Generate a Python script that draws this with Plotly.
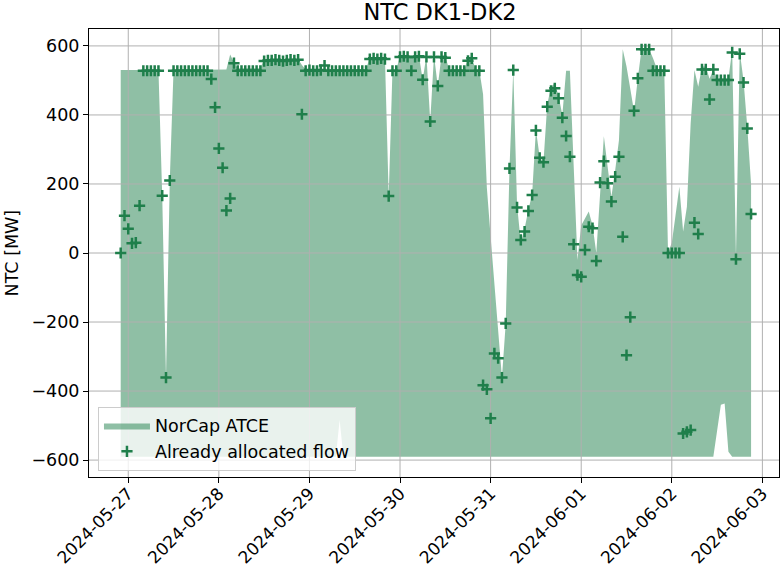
import pandas as pd
import plotly.graph_objects as go

# ---------------- data (hourly, starting 2024-05-26 22:00) ----------------
start_time = "2024-05-26 22:00"

already_allocated_flow = [
    0, 108, 70, 28, 30, 137, 528, 528, 528, 528, 528, 166,
    -361, 210, 528, 528, 528, 528, 528, 528, 528, 528, 528, 528,
    504, 422, 303, 247, 123, 158, 550, 528, 528, 528, 528, 528,
    528, 528, 556, 558, 558, 560, 558, 556, 558, 560, 558, 560,
    402, 528, 530, 528, 528, 530, 543, 528, 528, 528, 528, 528,
    528, 528, 528, 528, 528, 528, 562, 564, 562, 564, 562, 165,
    528, 528, 568, 570, 568, 528, 568, 570, 502, 568, 381, 568,
    484, 568, 566, 528, 528, 528, 528, 528, 557, 564, 528, 528,
    -383, -395, -479, -291, -305, -361, -204, 245, 530, 132, 38, 62,
    122, 168, 355, 276, 263, 424, 470, 477, 448, 392, 339, 279,
    25, -64, -69, 9, 76, 72, -23, 204, 266, 202, 149, 221,
    279, 47, -296, -186, 412, 506, 590, 590, 590, 528, 528, 528,
    528, 0, 0, 0, 0, -523, -518, -513, 88, 55, 532, 532,
    445, 532, 501, 501, 501, 501, 581, -18, 577, 494, 361, 113,
]

atce_upper = [
    530, 530, 530, 530, 530, 530, 530, 530, 530, 530, 530, 166,
    -361, 210, 530, 530, 530, 530, 530, 530, 530, 530, 530, 530,
    530, 530, 530, 530, 532, 575, 552, 535, 535, 535, 535, 535,
    535, 535, 562, 562, 562, 562, 562, 562, 562, 562, 562, 562,
    545, 532, 532, 532, 532, 532, 532, 532, 532, 532, 532, 532,
    532, 532, 532, 532, 532, 532, 568, 568, 568, 568, 568, 165,
    530, 530, 572, 572, 572, 572, 572, 572, 502, 572, 381, 572,
    484, 572, 572, 530, 530, 530, 530, 530, 565, 570, 530, 530,
    460, 190, 47, -90, -233, -361, -204, 245, 530, 140, 30, 70,
    125, 170, 357, 278, 263, 430, 481, 492, 455, 400, 528, 528,
    254, -20, 80, 100, 120, 80, 0, 170, 338, 250, 163, 240,
    327, 590, 540, 476, 410, 506, 592, 592, 590, 565, 535, 532,
    532, 0, 30, 110, 192, 62, 134, 376, 530, 482, 540, 540,
    505, 532, 505, 505, 505, 505, 588, -10, 583, 500, 365, 200,
]

atce_lower = [
    -590, -590, -590, -590, -590, -590, -590, -590, -590, -590, -590, -590,
    -590, -590, -590, -590, -590, -590, -590, -590, -590, -590, -590, -590,
    -590, -590, -590, -590, -590, -590, -590, -590, -590, -590, -590, -590,
    -590, -590, -590, -590, -590, -590, -590, -590, -590, -590, -590, -590,
    -590, -590, -590, -590, -590, -590, -590, -590, -590, -590, -484, -590,
    -590, -590, -590, -590, -590, -590, -590, -590, -590, -590, -590, -590,
    -590, -590, -590, -590, -590, -590, -590, -590, -590, -590, -590, -590,
    -590, -590, -590, -590, -590, -590, -590, -590, -590, -590, -590, -590,
    -590, -590, -590, -590, -590, -590, -590, -590, -590, -590, -590, -590,
    -590, -590, -590, -590, -590, -590, -590, -590, -590, -590, -590, -590,
    -590, -590, -590, -590, -590, -590, -590, -590, -590, -590, -590, -590,
    -590, -590, -590, -590, -590, -590, -590, -590, -590, -590, -590, -590,
    -590, -590, -590, -590, -590, -590, -590, -590, -590, -590, -590, -590,
    -590, -590, -515, -440, -436, -576, -590, -590, -590, -590, -590, -590,
]

x_tick_dates = ["2024-05-27", "2024-05-28", "2024-05-29", "2024-05-30",
                "2024-05-31", "2024-06-01", "2024-06-02", "2024-06-03"]
y_tick_values = [-600, -400, -200, 0, 200, 400, 600]
y_tick_labels = ["\u2212600", "\u2212400", "\u2212200", "0", "200", "400", "600"]

x_range = ["2024-05-26 13:36", "2024-06-03 04:24"]
y_range = [-649, 649]

# ---------------- styling ----------------
GREEN = "#1f7f4b"
FILL = "rgba(31,127,75,0.5)"
GRID = "#b0b0b0"
FONT = "DejaVu Sans"
FS = 17.5

times = pd.date_range(start_time, periods=len(already_allocated_flow), freq="h")

fig = go.Figure()

fig.add_trace(go.Scatter(
    x=times, y=atce_lower, mode="lines", line=dict(width=0, color=FILL),
    showlegend=False, hoverinfo="skip", legendgroup="atce",
))
fig.add_trace(go.Scatter(
    x=times, y=atce_upper, mode="lines", line=dict(width=0, color=FILL),
    fill="tonexty", fillcolor=FILL, name="NorCap ATCE", legendgroup="atce",
))

# grid drawn above the filled band (as matplotlib does), below the markers
gx, gy = [], []
for d in x_tick_dates:
    gx += [d, d, None]
    gy += [y_range[0], y_range[1], None]
for v in y_tick_values:
    gx += [x_range[0], x_range[1], None]
    gy += [v, v, None]
fig.add_trace(go.Scatter(
    x=gx, y=gy, mode="lines", line=dict(color=GRID, width=1),
    showlegend=False, hoverinfo="skip",
))

fig.add_trace(go.Scatter(
    x=times, y=already_allocated_flow, mode="markers",
    marker=dict(symbol="cross-thin", size=8, color=GREEN,
                line=dict(color=GREEN, width=2.5)),
    name="Already allocated flow", legendgroup="flow",
))

fig.update_layout(
    width=782, height=574,
    margin=dict(l=89, r=3, t=29, b=97, autoexpand=False),
    plot_bgcolor="white", paper_bgcolor="white",
    font=dict(family=FONT, size=FS, color="black"),
    title=dict(text="NTC DK1-DK2", x=440 / 782, xanchor="center",
               y=1 - 12 / 574, yanchor="middle",
               font=dict(family=FONT, size=22.5, color="black")),
    legend=dict(x=0.013, y=0.014, xanchor="left", yanchor="bottom",
                traceorder="grouped", tracegroupgap=0, itemwidth=46,
                bgcolor="rgba(255,255,255,0.8)", bordercolor="#cccccc",
                borderwidth=1, font=dict(family=FONT, size=FS)),
    annotations=[dict(text="NTC [MW]", xref="paper", yref="paper",
                      x=-0.111, y=0.5, xanchor="center", yanchor="middle",
                      textangle=-90, showarrow=False,
                      font=dict(family=FONT, size=FS, color="black"))],
)

fig.update_xaxes(
    range=x_range, type="date", tickvals=x_tick_dates, tickformat="%Y-%m-%d",
    tickangle=-45, showgrid=False, zeroline=False, automargin=False,
    showline=True, linecolor="black", linewidth=1, mirror=True,
    ticks="outside", ticklen=5, tickwidth=1, tickcolor="black",
    ticklabelstandoff=-6,
    tickfont=dict(family=FONT, size=17),
)
fig.update_yaxes(
    range=y_range, tickvals=y_tick_values, ticktext=y_tick_labels,
    showgrid=False, zeroline=False, automargin=False,
    showline=True, linecolor="black", linewidth=1, mirror=True,
    ticks="outside", ticklen=5, tickwidth=1, tickcolor="black",
    tickfont=dict(family=FONT, size=FS),
)

fig.write_html(
    "out.html",
    config={"displayModeBar": False},
    post_script="document.body.style.margin='0';document.body.style.overflow='hidden';",
)
